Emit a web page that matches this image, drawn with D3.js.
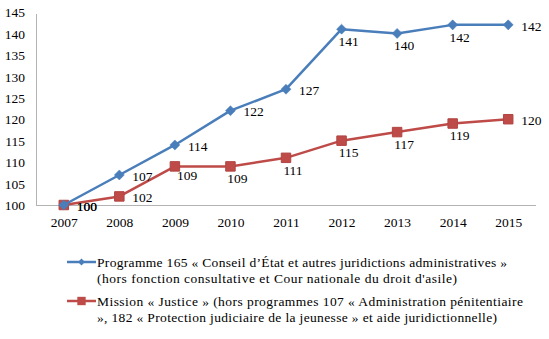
<!DOCTYPE html>
<html>
<head>
<meta charset="utf-8">
<script src="https://cdn.jsdelivr.net/npm/d3@7"></script>
<style>
  html, body { margin: 0; padding: 0; background: #fff; }
  svg text { font-family: "Liberation Serif", "Times New Roman", serif; fill: #000; }
</style>
</head>
<body>
<svg id="chart" width="549" height="339"></svg>
<script>
// Index base 100 in 2007
const years = ["2007", "2008", "2009", "2010", "2011", "2012", "2013", "2014", "2015"];
const programme165 = [100, 107, 114, 122, 127, 141, 140, 142, 142];
const missionJustice = [100, 102, 109, 109, 111, 115, 117, 119, 120];
const yTicks = [100, 105, 110, 115, 120, 125, 130, 135, 140, 145];

// Where each value label sits relative to its point
const programmeLabelSide = ["right", "right", "right", "right", "right", "below", "below", "below", "right"];
const justiceLabelSide = ["right", "right", "belowRight", "below", "below", "below", "below", "below", "right"];

const legendProgramme = [
  "Programme 165 « Conseil d\u2019État et autres juridictions administratives »",
  "(hors fonction consultative et Cour nationale du droit d'asile)"
];
const legendJustice = [
  "Mission « Justice » (hors programmes 107 « Administration pénitentiaire",
  "», 182 « Protection judiciaire de la jeunesse » et aide juridictionnelle)"
];
// Set width of each legend line
const legendProgrammeWidths = [410, 360];
const legendJusticeWidths = [426, 400];

const blue = "#4a7ebb";
const red = "#be4b48";
const axisGrey = "#b3b3b3";

const svg = d3.select("#chart");
const plot = { left: 36, right: 536, top: 12, bottom: 205 };

const x = d3.scalePoint().domain(years).range([plot.left, plot.right]).padding(0.5);
const y = d3.scaleLinear().domain([100, 145]).range([plot.bottom, plot.top]);

// Y axis
const yAxis = svg.append("g")
  .attr("transform", `translate(${plot.left},0)`)
  .call(d3.axisLeft(y).tickValues(yTicks).tickSize(0).tickPadding(11));
yAxis.select(".domain").attr("stroke", axisGrey).attr("d", `M0.5,${plot.top + 2}V${plot.bottom}`);
yAxis.selectAll("text").attr("font-size", 13.5).attr("font-family", null).attr("dy", "0.35em");

// X axis
const xAxis = svg.append("g")
  .attr("transform", `translate(0,${plot.bottom})`)
  .call(d3.axisBottom(x).tickSize(0).tickPadding(12));
xAxis.select(".domain").attr("stroke", axisGrey).attr("d", `M${plot.left},0.5H${plot.right}`);
xAxis.selectAll("text").attr("font-size", 13.5).attr("font-family", null);

function drawSeries(values, color, marker, sides) {
  const pts = values.map((v, i) => [x(years[i]), y(v)]);
  svg.append("path")
    .attr("d", d3.line()(pts))
    .attr("fill", "none")
    .attr("stroke", color)
    .attr("stroke-width", 2.5)
    .attr("stroke-linejoin", "round");

  const sym = marker === "diamond"
    ? d3.symbol().type(d3.symbolDiamond2).size(64)
    : d3.symbol().type(d3.symbolSquare).size(90);
  svg.append("g").selectAll("path")
    .data(pts)
    .join("path")
    .attr("d", sym)
    .attr("transform", d => `translate(${d[0]},${d[1]})`)
    .attr("fill", color)
    .attr("stroke", marker === "diamond" ? color : "#b04542")
    .attr("stroke-width", marker === "diamond" ? 0.5 : 1);

  svg.append("g").selectAll("text")
    .data(values)
    .join("text")
    .attr("font-size", 13.5)
    .attr("x", (v, i) => {
      const px = x(years[i]);
      if (sides[i] === "right") return px + 13;
      if (sides[i] === "belowRight") return px + 2;
      return px + 7;
    })
    .attr("y", (v, i) => {
      const py = y(v);
      if (sides[i] === "right") return py + 1;
      if (sides[i] === "belowRight") return py + 9;
      return py + 12;
    })
    .attr("dy", "0.35em")
    .attr("text-anchor", (v, i) => sides[i] === "right" || sides[i] === "belowRight" ? "start" : "middle")
    .text(d => d);
}

drawSeries(missionJustice, red, "square", justiceLabelSide);
drawSeries(programme165, blue, "diamond", programmeLabelSide);

// Legend
function legendEntry(yRow, color, marker, lines, widths) {
  const g = svg.append("g");
  g.append("line")
    .attr("x1", 67).attr("x2", 96)
    .attr("y1", yRow).attr("y2", yRow)
    .attr("stroke", color).attr("stroke-width", 2.5);
  const sym = marker === "diamond"
    ? d3.symbol().type(d3.symbolDiamond2).size(30)
    : d3.symbol().type(d3.symbolSquare).size(70);
  g.append("path").attr("d", sym)
    .attr("transform", `translate(81.5,${yRow})`)
    .attr("fill", color);
  g.selectAll("text")
    .data(lines)
    .join("text")
    .attr("x", 97)
    .attr("y", (d, i) => yRow + i * 16.5)
    .attr("dy", "0.35em")
    .attr("font-size", 13.5)
    .attr("textLength", (d, i) => widths[i])
    .attr("lengthAdjust", "spacing")
    .text(d => d);
}
legendEntry(262, blue, "diamond", legendProgramme, legendProgrammeWidths);
legendEntry(301, red, "square", legendJustice, legendJusticeWidths);
</script>
</body>
</html>
